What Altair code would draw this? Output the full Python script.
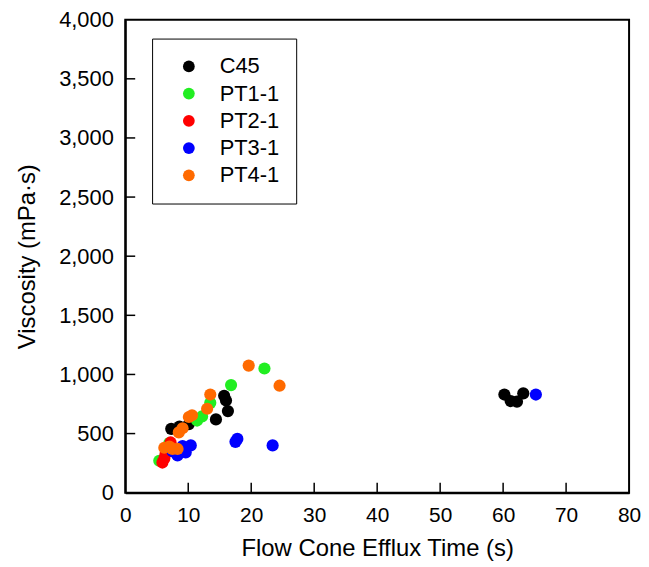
import altair as alt
import pandas as pd

series_names = ["C45", "PT1-1", "PT2-1", "PT3-1", "PT4-1"]
series_colors = ["#000000", "#22ee22", "#ff0000", "#0000ff", "#ff6a00"]

c45_x = [60.2, 61.2, 62.2, 63.2, 7.3, 10.1, 14.4, 15.7, 16.0, 16.3, 8.6]
c45_y = [830, 775, 770, 840, 540, 580, 620, 820, 780, 690, 560]
pt1_x = [5.4, 11.4, 12.2, 13.5, 16.8, 22.1, 7.0]
pt1_y = [270, 610, 645, 760, 910, 1050, 420]
pt2_x = [5.9, 6.4, 7.2, 6.2]
pt2_y = [255, 330, 425, 290]
pt3_x = [65.2, 17.8, 17.5, 23.4, 10.4, 9.6, 8.3, 9.1, 7.5]
pt3_y = [830, 455, 430, 400, 400, 340, 315, 395, 350]
pt4_x = [19.6, 24.5, 13.5, 13.0, 10.1, 10.6, 9.1, 8.5, 6.2, 7.5, 8.3, 7.0]
pt4_y = [1075, 905, 830, 710, 640, 655, 545, 510, 380, 370, 370, 390]

x_ticks = [0, 10, 20, 30, 40, 50, 60, 70, 80]
y_ticks = [0, 500, 1000, 1500, 2000, 2500, 3000, 3500, 4000]

rows = []
for name, xs, ys in zip(series_names, [c45_x, pt1_x, pt2_x, pt3_x, pt4_x],
                        [c45_y, pt1_y, pt2_y, pt3_y, pt4_y]):
    for a, b in zip(xs, ys):
        rows.append({"series": name, "t": a, "v": b, "order": series_names.index(name)})
df = pd.DataFrame(rows)

W, H = 507, 476
FONT = "Liberation Sans"
TICK = 10

xscale = alt.Scale(domain=[0, 80], nice=False)
yscale = alt.Scale(domain=[0, 4000], nice=False)

points = alt.Chart(df).mark_circle(size=150, opacity=1).encode(
    x=alt.X("t:Q", scale=xscale, title="Flow Cone Efflux Time (s)",
            axis=alt.Axis(values=x_ticks, tickSize=0, labelPadding=12, titlePadding=11,
                          labelFlush=False, grid=False, domainColor="black", domainWidth=2,
                          labelFontSize=21, titleFontSize=24)),
    y=alt.Y("v:Q", scale=yscale, title="Viscosity (mPa·s)",
            axis=alt.Axis(values=y_ticks, tickSize=0, labelPadding=12, titlePadding=19,
                          labelFlush=False, grid=False, format=",.0f", domainColor="black",
                          domainWidth=2, labelFontSize=22, titleFontSize=24)),
    color=alt.Color("series:N", scale=alt.Scale(domain=series_names, range=series_colors),
                    legend=alt.Legend(title=None, orient="none", legendX=27, legendY=19,
                                      strokeColor="black", padding=17, symbolOffset=9,
                                      symbolSize=140, symbolType="circle",
                                      labelFontSize=22, labelFont=FONT, labelColor="black",
                                      rowPadding=5.4, labelOffset=20, symbolStrokeWidth=0,
                                      fillColor="white")),
    order=alt.Order("order:Q"),
)

xt = pd.DataFrame({"t": x_ticks[1:-1]})
yt = pd.DataFrame({"v": y_ticks[1:-1]})
xtick_rules = alt.Chart(xt).mark_rule(color="black", strokeWidth=1.5).encode(
    x=alt.X("t:Q", scale=xscale), y=alt.value(H - TICK), y2=alt.value(H))
ytick_rules = alt.Chart(yt).mark_rule(color="black", strokeWidth=1.5).encode(
    y=alt.Y("v:Q", scale=yscale), x=alt.value(0), x2=alt.value(TICK))

chart = alt.layer(points, xtick_rules, ytick_rules).properties(
    width=W, height=H,
    autosize=alt.AutoSizeParams(type="none"),
    padding={"left": 118, "top": 10, "right": 12, "bottom": 72},
).configure_view(stroke="black", strokeWidth=2).configure_axis(
    labelFont=FONT, titleFont=FONT,
    labelColor="black", titleColor="black", titleFontWeight="normal"
)

chart.save("out.html", embed_options={"renderer": "svg", "actions": False})
